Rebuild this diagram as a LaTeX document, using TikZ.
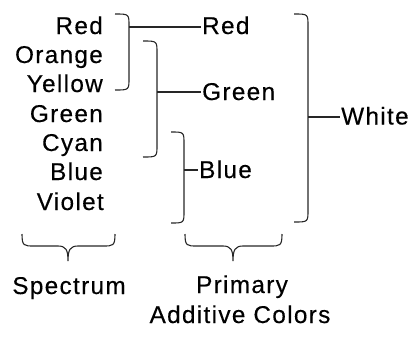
\documentclass[tikz,border=0pt]{standalone}
\usepackage{fontspec}
\setmainfont{Liberation Sans}[LetterSpace=5.5,FakeBold=0.3]
\begin{document}
\begin{tikzpicture}[x=1pt,y=-1pt,
  lbl/.style={inner sep=0pt,font=\fontsize{24.3}{28}\selectfont},
  ln/.style={line width=1.1pt,color=black!85}]
\useasboundingbox (0,0) rectangle (417,338);
% left column
\node[lbl,anchor=base east] (sR) at (103,34) {Red};
\node[lbl,anchor=base east] (sO) at (103,63) {Orange};
\node[lbl,anchor=base east] (sY) at (103,92) {Yellow};
\node[lbl,anchor=base east] (sG) at (103,122) {Green};
\node[lbl,anchor=base east] (sC) at (103,151) {Cyan};
\node[lbl,anchor=base east] (sB) at (103,180) {Blue};
\node[lbl,anchor=base east] (sV) at (104,210) {Violet};
% primaries
\node[lbl,anchor=base west] (pR) at (202,34) {Red};
\node[lbl,anchor=base west] (pG) at (202,100) {Green};
\node[lbl,anchor=base west] (pB) at (199,178) {Blue};
\node[lbl,anchor=base west] (W) at (341,124.5) {White};
% bottom labels
\node[lbl,anchor=base] (spec) at (69,294) {Spectrum};
\node[lbl,anchor=base] (prim) at (242,293) {Primary};
\node[lbl,anchor=base] (add) at (240,323) {Additive Colors};
% bracket 1
\coordinate (b1) at (129,27);
\draw[ln] (115,14) .. controls (129,14) .. (129,26) -- (129,78) .. controls (129,90) .. (115,90);
\draw[ln] (b1) -- ([xshift=-1pt]pR.west |- b1);
% bracket 2
\coordinate (b2) at (157,92);
\draw[ln] (143,41) .. controls (157,41) .. (157,53) -- (157,145) .. controls (157,157) .. (143,157);
\draw[ln] (b2) -- ([xshift=-1pt]pG.west |- b2);
% bracket 3
\coordinate (b3) at (184,170);
\draw[ln] (171,132) .. controls (184,132) .. (184,144) -- (184,211) .. controls (184,223) .. (171,223);
\draw[ln] (b3) -- ([xshift=-1pt]pB.west |- b3);
% bracket 4
\coordinate (b4) at (308,117);
\draw[ln] (294,14) .. controls (308,14) .. (308,26) -- (308,210) .. controls (308,222) .. (294,222);
\draw[ln] (b4) -- ([xshift=-1pt]W.west |- b4);
% bottom braces
\draw[ln] (22,234) .. controls (22,246) and (24,246) .. (34,246) -- (58,246) .. controls (66,246) and (68,250) .. (68,261)
  .. controls (68,250) and (70,246) .. (78,246) -- (103,246) .. controls (113,246) and (115,246) .. (115,234);
\draw[ln] (185,234) .. controls (185,246) and (187,246) .. (197,246) -- (223,246) .. controls (231,246) and (233,250) .. (233,261)
  .. controls (233,250) and (235,246) .. (243,246) -- (270,246) .. controls (280,246) and (282,246) .. (282,234);
\end{tikzpicture}
\end{document}
